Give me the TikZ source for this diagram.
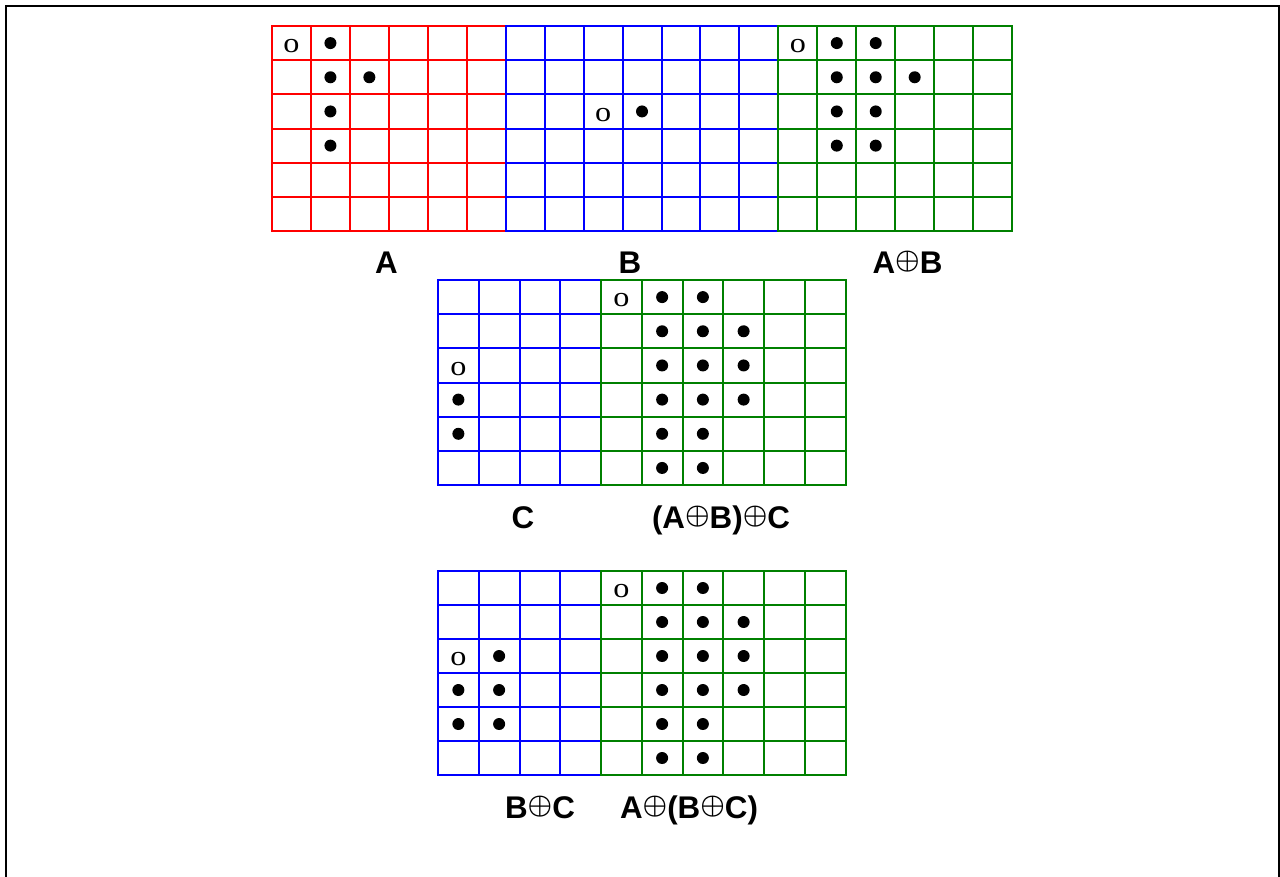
\documentclass[tikz,border=0pt]{standalone}
\usepackage{fontspec}
\setmainfont{Liberation Serif}
\newfontfamily\lblfont{Liberation Sans}
\definecolor{gridred}{RGB}{255,0,0}
\definecolor{gridblue}{RGB}{0,0,255}
\definecolor{gridgreen}{RGB}{0,128,0}
% circled plus, lifted so that it sits between baseline and cap height
\newcommand\opl{\raisebox{0.15em}{\scalebox{0.83}{\boldmath$\oplus$}}}
% grid of #1 columns and 6 rows in the current cell-sized coordinate system
\newcommand\panelgrid[2]{%
  \foreach \i in {0,...,#1} \draw[gridline,#2] (\i,0) -- (\i,6);
  \foreach \j in {0,...,6} \draw[gridline,#2] (0,\j) -- (#1,\j);
}
\tikzset{
  gridline/.style={line width=1.5pt, line cap=rect},
  frameline/.style={line width=1.6pt},
  dot/.style={circle, fill=black, inner sep=0pt, minimum size=9pt},
  origin/.style={inner sep=0pt, yshift=-2.5pt,
    font=\fontsize{21}{21}\selectfont},
  lbl/.style={anchor=base, inner sep=0pt,
    font=\lblfont\bfseries\fontsize{23.5}{28}\selectfont},
}
\begin{document}
\begin{tikzpicture}[x=0.75pt,y=-0.75pt]
\useasboundingbox (0,0) rectangle (1280,876);
\clip (0,0) rectangle (1280,876);
\draw[frameline] (6,6) rectangle (1279,900);

% ---------- top row: A, B, A+B ----------
\begin{scope}[shift={(272,26)}, x=29.2125pt, y=-25.63pt]
  \panelgrid{6}{gridred}
  \node[origin] (A-o) at (0.5,0.5) {\scalebox{1.15}[1]{o}};
  \foreach[count=\k] \r/\c in {0/1,1/1,1/2,2/1,3/1}
    \node[dot] (A-d\k) at (\c+0.5,\r+0.5) {};
\end{scope}
\begin{scope}[shift={(505.7,26)}, x=29.2125pt, y=-25.63pt]
  \panelgrid{7}{gridblue}
  \node[origin] (B-o) at (2.5,2.5) {\scalebox{1.15}[1]{o}};
  \node[dot] (B-d1) at (3.5,2.5) {};
\end{scope}
\begin{scope}[shift={(778.35,26)}, x=29.2125pt, y=-25.63pt]
  \panelgrid{6}{gridgreen}
  \node[origin] (AB-o) at (0.5,0.5) {\scalebox{1.15}[1]{o}};
  \foreach[count=\k] \r/\c in {0/1,0/2,1/1,1/2,1/3,2/1,2/2,3/1,3/2}
    \node[dot] (AB-d\k) at (\c+0.5,\r+0.5) {};
\end{scope}
\node[lbl] (labA) at (386.5,273) {A};
\node[lbl] (labB) at (630,273) {B};
\node[lbl] (labAB) at (907.5,273) {A\opl B};

% ---------- middle row: C and (A+B)+C ----------
\begin{scope}[shift={(438,280)}, x=30.5625pt, y=-25.63pt]
  \panelgrid{4}{gridblue}
  \node[origin] (C-o) at (0.5,2.5) {\scalebox{1.15}[1]{o}};
  \foreach[count=\k] \r/\c in {3/0,4/0}
    \node[dot] (C-d\k) at (\c+0.5,\r+0.5) {};
\end{scope}
\begin{scope}[shift={(601,280)}, x=30.5625pt, y=-25.63pt]
  \panelgrid{6}{gridgreen}
  \node[origin] (ABC-o) at (0.5,0.5) {\scalebox{1.15}[1]{o}};
  \foreach[count=\k] \r/\c in {0/1,0/2,1/1,1/2,1/3,2/1,2/2,2/3,3/1,3/2,3/3,4/1,4/2,5/1,5/2}
    \node[dot] (ABC-d\k) at (\c+0.5,\r+0.5) {};
\end{scope}
\node[lbl] (labC) at (523,528) {C};
\node[lbl] (labABC) at (721,528) {(A\opl B)\opl C};

% ---------- bottom row: B+C and A+(B+C) ----------
\begin{scope}[shift={(438,571)}, x=30.5625pt, y=-25.5pt]
  \panelgrid{4}{gridblue}
  \node[origin] (BC-o) at (0.5,2.5) {\scalebox{1.15}[1]{o}};
  \foreach[count=\k] \r/\c in {2/1,3/0,3/1,4/0,4/1}
    \node[dot] (BC-d\k) at (\c+0.5,\r+0.5) {};
\end{scope}
\begin{scope}[shift={(601,571)}, x=30.5625pt, y=-25.5pt]
  \panelgrid{6}{gridgreen}
  \node[origin] (ABC2-o) at (0.5,0.5) {\scalebox{1.15}[1]{o}};
  \foreach[count=\k] \r/\c in {0/1,0/2,1/1,1/2,1/3,2/1,2/2,2/3,3/1,3/2,3/3,4/1,4/2,5/1,5/2}
    \node[dot] (ABC2-d\k) at (\c+0.5,\r+0.5) {};
\end{scope}
\node[lbl] (labBC) at (540,818) {B\opl C};
\node[lbl] (labABC2) at (689,818) {A\opl(B\opl C)};
\end{tikzpicture}
\end{document}
